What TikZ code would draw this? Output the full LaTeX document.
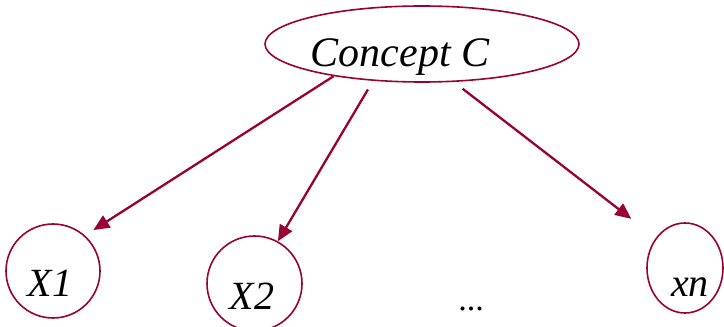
\documentclass[tikz,border=0pt]{standalone}
\usepackage{fontspec}
\setmainfont{Liberation Serif}
\usetikzlibrary{shapes.geometric,arrows.meta}

\definecolor{wine}{RGB}{153,0,51}

\begin{document}
\begin{tikzpicture}[x=1pt, y=1pt,
    concept/.style={ellipse, draw=wine, line width=1.6pt, inner sep=0pt},
    var/.style={circle, draw=wine, line width=1.6pt, inner sep=0pt, minimum size=94pt},
    lbl/.style={anchor=base, inner sep=0pt, font=\fontsize{40}{40}\selectfont\itshape},
    link/.style={color=wine, line width=2.3pt, -{Triangle[length=16pt,width=14pt]}},
    gapin/.style={shorten <=#1},
    gapout/.style={shorten >=#1}]
    \useasboundingbox (0,0) rectangle (724,327);
    \node[concept, minimum width=314pt, minimum height=76pt] (C) at (422, 283) {};
    \node[var] (X1) at (53, 56) {};
    \node[var, minimum size=95pt] (X2) at (254.5, 43.5) {};
    \node[var, ellipse, minimum width=76pt, minimum height=90pt] (xn) at (685, 59) {};
    % texts sit on their own baselines
    \node[lbl, font=\fontsize{42}{42}\selectfont\itshape] (Ct) at (400, 260) {Concept C};
    \node[lbl] (X1t) at (50, 30) {X1};
    \node[lbl] (X2t) at (252, 17) {X2};
    \node[lbl] (xnt) at (690, 30) {xn};
    \node[lbl, font=\fontsize{34}{34}\selectfont] (dots) at (471, 16) {...};
    \path[link]
    (C.200) edge [gapout=10pt] (X1.48)
    (C.217) edge [gapin=10pt] (X2.61)
    (C.310) edge [gapin=11pt, gapout=31pt] (xn.134);
\end{tikzpicture}
\end{document}
